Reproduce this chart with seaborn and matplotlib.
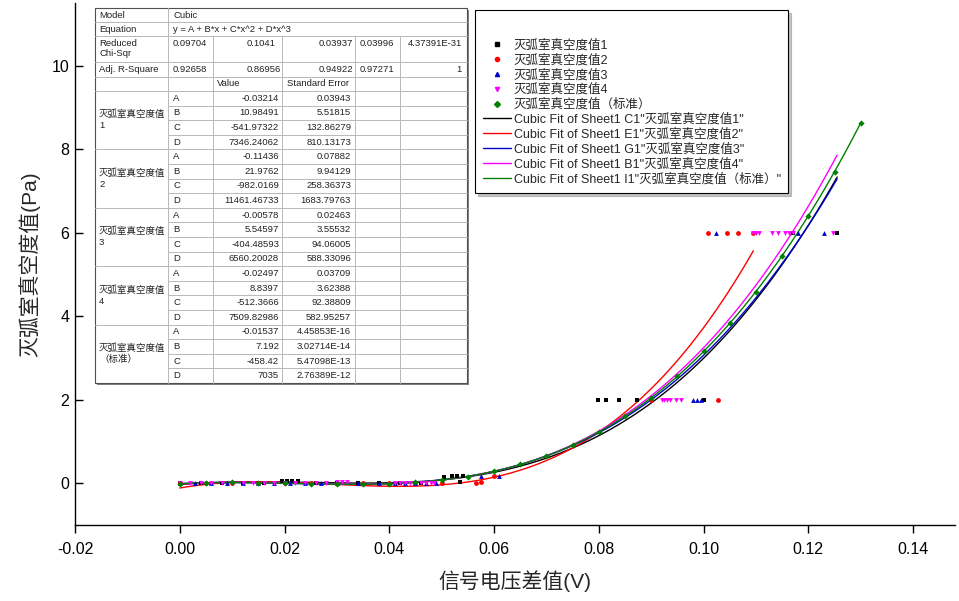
import matplotlib
matplotlib.use("Agg")
import matplotlib.pyplot as plt
import numpy as np
import seaborn as sns
from matplotlib.lines import Line2D
from matplotlib.patches import Rectangle

sns.set_theme(style="ticks")
plt.rcParams["font.family"] = ["Liberation Sans", "Noto Sans CJK SC"]
plt.rcParams["axes.unicode_minus"] = False

# ---- measured points ----
x1 = [0.000, 0.004, 0.008, 0.012, 0.016, 0.0195, 0.0205, 0.0215, 0.0225, 0.026, 0.030,
      0.034, 0.038, 0.042, 0.046, 0.0505, 0.052, 0.053, 0.054, 0.0535,
      0.0798, 0.0813, 0.0838, 0.0872, 0.0899, 0.1000, 0.1170, 0.1255]
y1 = [0, 0, 0, 0, 0, 0.05, 0.05, 0.05, 0.05, 0, 0,
      0, 0, 0, 0, 0.15, 0.17, 0.17, 0.17, 0.02,
      2, 2, 2, 2, 2, 2, 6, 6]

x2 = [0.000, 0.005, 0.010, 0.015, 0.020, 0.025, 0.030, 0.035, 0.040, 0.045, 0.050,
      0.0565, 0.0575, 0.060, 0.0899, 0.1027, 0.1008, 0.1044, 0.1065, 0.1095]
y2 = [0, 0, 0, 0, 0, 0, 0, 0, 0, 0, 0,
      0.0, 0.02, 0.17, 2, 2, 6, 6, 6, 6]

x3 = [0.000, 0.003, 0.006, 0.009, 0.012, 0.015, 0.018, 0.021, 0.024, 0.027, 0.030,
      0.034, 0.038, 0.041, 0.043, 0.045, 0.047, 0.049, 0.0575, 0.061,
      0.0980, 0.0988, 0.0995, 0.1023, 0.1180, 0.1230]
y3 = [0, 0, 0, 0, 0, 0, 0, 0, 0, 0, 0,
      0, 0, 0, 0, 0, 0, 0, 0.17, 0.17,
      2, 2, 2, 6, 6, 6]

x4 = [0.000, 0.002, 0.004, 0.006, 0.008, 0.010, 0.012, 0.014, 0.016, 0.018, 0.020,
      0.022, 0.024, 0.026, 0.028, 0.030, 0.031, 0.032, 0.041, 0.042, 0.043, 0.044,
      0.045, 0.046, 0.047, 0.048, 0.0485,
      0.0920, 0.0925, 0.0930, 0.0935, 0.0947, 0.0956,
      0.1095, 0.1100, 0.1105, 0.1130, 0.1143, 0.1156, 0.1163, 0.1170, 0.1248]
y4 = [0, 0, 0, 0, 0, 0, 0, 0, 0, 0, 0,
      0, 0, 0, 0, 0.02, 0.02, 0.02, 0, 0, 0, 0,
      0, 0, 0, 0, 0,
      2, 2, 2, 2, 2, 2,
      6, 6, 6, 6, 6, 6, 6, 6, 6]

x_std = [0.000, 0.005, 0.010, 0.015, 0.020, 0.025, 0.030, 0.035, 0.040, 0.045,
         0.050, 0.055, 0.060, 0.065, 0.070, 0.075, 0.080, 0.085, 0.090, 0.095,
         0.100, 0.105, 0.110, 0.115, 0.120, 0.125, 0.130]
y_std = [-0.02, 0.01, 0.02, 0.01, 0.00, -0.01, -0.02, -0.02, -0.01, 0.02,
         0.08, 0.16, 0.29, 0.45, 0.66, 0.91, 1.23, 1.60, 2.05, 2.56,
         3.16, 3.83, 4.59, 5.45, 6.40, 7.46, 8.63]

series_x = [x1, x2, x3, x4, x_std]
series_y = [y1, y2, y3, y4, y_std]
series_names = ["灭弧室真空度值1", "灭弧室真空度值2", "灭弧室真空度值3",
                "灭弧室真空度值4", "灭弧室真空度值（标准）"]
colors = ["black", "#ff0000", "#0000cc", "#ff00ff", "#008000"]
markers = ["s", "o", "^", "v", "D"]

# ---- cubic fit results (from the table) ----
fit_cols = ["C1", "E1", "G1", "B1", "I1"]
fit_A = [-0.03214, -0.11436, -0.00578, -0.02497, -0.01537]
fit_B = [10.98491, 21.9762, 5.54597, 8.8397, 7.192]
fit_C = [-541.97322, -982.0169, -404.48593, -512.3666, -458.42]
fit_D = [7346.24062, 11461.46733, 6560.20028, 7509.82986, 7035]
fit_A_err = ["0.03943", "0.07882", "0.02463", "0.03709", "4.45853E-16"]
fit_B_err = ["5.51815", "9.94129", "3.55532", "3.62388", "3.02714E-14"]
fit_C_err = ["132.86279", "258.36373", "94.06005", "92.38809", "5.47098E-13"]
fit_D_err = ["810.13173", "1683.79763", "588.33096", "582.95257", "2.76389E-12"]
fit_xmax = [0.1255, 0.1095, 0.1255, 0.1255, 0.130]
chi_sqr = ["0.09704", "0.1041", "0.03937", "0.03996", "4.37391E-31"]
adj_r2 = ["0.92658", "0.86956", "0.94922", "0.97271", "1"]
block_labels = ["灭弧室真空度值\n1", "灭弧室真空度值\n2", "灭弧室真空度值\n3",
                "灭弧室真空度值\n4", "灭弧室真空度值\n（标准）"]

W, H = 959, 601
fig = plt.figure(figsize=(W / 100, H / 100), dpi=100)
ax = fig.add_axes([75 / W, (H - 525) / H, (955 - 75) / W, (525 - 3) / H])

for i in range(5):
    xs = np.linspace(0, fit_xmax[i], 200)
    ys = np.polyval([fit_D[i], fit_C[i], fit_B[i], fit_A[i]], xs)
    sns.lineplot(x=xs, y=ys, color=colors[i], lw=1, ax=ax, estimator=None,
                 sort=False, zorder=2)

for i in range(5):
    sns.scatterplot(x=series_x[i], y=series_y[i], marker=markers[i], color=colors[i],
                    s=12 if markers[i] != "D" else 10, linewidth=0, ax=ax, zorder=3 + i)

ax.set_xlim(-0.02, 0.148)
ax.set_ylim(-1, 11.5)
ax.set_xticks(np.arange(-0.02, 0.141, 0.02))
ax.set_xticklabels([f"{v:.2f}" for v in np.arange(-0.02, 0.141, 0.02)])
ax.set_yticks(range(0, 11, 2))
ax.spines[["top", "right"]].set_visible(False)
for s in ["left", "bottom"]:
    ax.spines[s].set_color("black")
    ax.spines[s].set_linewidth(1)
ax.tick_params(axis="x", direction="out", length=6, width=1, pad=6, labelsize=11.5,
               colors="black")
ax.tick_params(axis="y", direction="in", length=6, width=1, pad=4, labelsize=11.5,
               colors="black")
ax.set_xlabel("信号电压差值(V)", fontsize=15, labelpad=10)
ax.set_ylabel("灭弧室真空度值(Pa)", fontsize=15, labelpad=8)

# ---- legend ----
handles, labels = [], []
for i in range(5):
    handles.append(Line2D([], [], ls="none", marker=markers[i], color=colors[i],
                          markersize=3))
    labels.append(series_names[i])
for i in range(5):
    handles.append(Line2D([], [], color=colors[i], lw=1))
    labels.append(f'Cubic Fit of Sheet1 {fit_cols[i]}"{series_names[i]}"')
leg = ax.legend(handles, labels, loc="upper left", bbox_to_anchor=(475 / W, 1 - 10 / H),
                bbox_transform=fig.transFigure, borderaxespad=0, frameon=True,
                fancybox=False, edgecolor="black", fontsize=9, title=" ",
                title_fontsize=15, handlelength=2.3, handletextpad=0.2,
                labelspacing=0.2, borderpad=0.6, numpoints=1,
                shadow={"ox": 2, "oy": -2, "color": "#888888"})
leg.get_frame().set_linewidth(0.8)

# ---- parameter table ----
tab = fig.add_axes([0, 0, 1, 1], facecolor="none")
tab.set_xlim(0, W)
tab.set_ylim(H, 0)
tab.axis("off")

cols = [95, 168, 213, 282, 355, 400, 467]
rows_top = [8, 22, 36, 62, 77, 91]
row_h = (383 - 91) / 20
bottom = 383
fs = 6.8
grid_c = "#b8b8b8"

tab.add_patch(Rectangle((cols[0] + 2, rows_top[0] + 2), cols[-1] - cols[0], bottom - rows_top[0],
                        facecolor="#808080", edgecolor="none", zorder=1))
tab.add_patch(Rectangle((cols[0], rows_top[0]), cols[-1] - cols[0], bottom - rows_top[0],
                        facecolor="white", edgecolor="#505050", lw=0.8, zorder=2))

# horizontal lines
for y in rows_top[1:]:
    tab.plot([cols[0], cols[-1]], [y, y], color=grid_c, lw=0.7, zorder=3)
for r in range(1, 20):
    y = 91 + r * row_h
    x0 = cols[0] if r % 4 == 0 else cols[1]
    tab.plot([x0, cols[-1]], [y, y], color=grid_c, lw=0.7, zorder=3)
# vertical lines
tab.plot([cols[1], cols[1]], [rows_top[0], bottom], color=grid_c, lw=0.7, zorder=3)
for x in cols[2:-1]:
    tab.plot([x, x], [36, bottom], color=grid_c, lw=0.7, zorder=3)


def cell_text(x, y, s, ha="left", va="center"):
    tab.text(x, y, s, ha=ha, va=va, fontsize=fs, color="#222222", zorder=4)


cell_text(99, 15, "Model")
cell_text(173, 15, "Cubic")
cell_text(99, 29, "Equation")
cell_text(173, 29, "y = A + B*x + C*x^2 + D*x^3")
tab.text(99, 39, "Reduced\nChi-Sqr", ha="left", va="top", fontsize=fs,
         color="#222222", zorder=4, linespacing=1.2)
cell_text(99, 69.5, "Adj. R-Square")
val_left = [173, 247, 319, 360]
for j in range(4):
    cell_text(val_left[j], 44, chi_sqr[j])
    cell_text(val_left[j], 69.5, adj_r2[j])
cell_text(462, 44, chi_sqr[4], ha="right")
cell_text(462, 69.5, adj_r2[4], ha="right")
cell_text(217, 84, "Value")
cell_text(287, 84, "Standard Error")

letters = ["A", "B", "C", "D"]
for i in range(5):
    vals = [fit_A[i], fit_B[i], fit_C[i], fit_D[i]]
    errs = [fit_A_err[i], fit_B_err[i], fit_C_err[i], fit_D_err[i]]
    for k in range(4):
        yc = 91 + (i * 4 + k + 0.5) * row_h
        cell_text(173, yc, letters[k])
        cell_text(cols[3] - 3, yc, str(vals[k]), ha="right")
        cell_text(cols[4] - 4, yc, errs[k], ha="right")
    yb = 91 + (i * 4 + 2) * row_h
    tab.text(99, yb, block_labels[i], ha="left", va="center", fontsize=fs,
             color="#222222", zorder=4, linespacing=1.3)

fig.savefig("out.png", dpi=100, facecolor="white")
